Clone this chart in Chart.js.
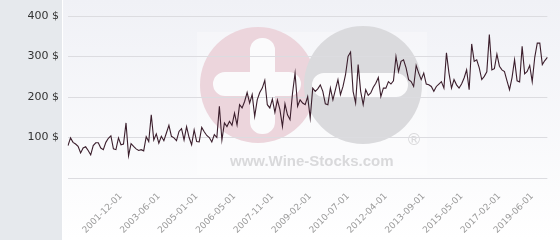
<!DOCTYPE html>
<html>
<head>
<meta charset="utf-8">
<script src="https://cdn.jsdelivr.net/npm/chart.js@4/dist/chart.umd.min.js"></script>
<style>
  html, body { margin: 0; padding: 0; background: #fff; }
  #wrap { width: 560px; height: 240px; }
</style>
</head>
<body>
<div id="wrap"><canvas id="priceChart" width="560" height="240"></canvas></div>
<script>
// tick dates shown on the x axis and the point index each one sits on
const tickLabels = ['2001-12-01', '2003-06-01', '2005-01-01', '2006-05-01', '2007-11-01', '2009-02-01',
  '2010-07-01', '2012-04-01', '2013-09-01', '2015-05-01', '2017-02-01', '2019-06-01'];
const tickIndex = [21, 36, 51, 66, 81, 96, 111, 126, 141, 156, 171, 184];

// price per sale ($)
const prices = [
  80, 99, 88, 84, 78, 62, 74, 77, 68, 57,
  80, 87, 87, 74, 70, 88, 98, 104, 72, 70,
  99, 82, 84, 136, 55, 85, 78, 72, 68, 70,
  67, 102, 90, 156,
  94, 109, 86, 103, 92, 111, 130, 103, 99, 92,
  115, 122, 94, 127, 100, 82, 119, 90, 89, 125,
  114, 105, 100, 89, 107, 100, 177, 94, 136, 127,
  140, 130, 160,
  131, 181, 173, 189, 211, 185, 206, 152, 193, 211,
  222, 241, 181, 173, 195, 162, 193, 169, 127, 183,
  156, 144, 210, 259, 177, 193, 185, 181, 201, 148,
  222, 214, 220, 230, 214,
  183, 181, 222, 193, 218, 243, 206, 226, 255, 300,
  311, 214, 185, 280, 214, 181, 218, 204, 210, 224,
  234, 248, 201, 222, 222, 238, 232, 240, 300, 263,
  288, 292, 272, 243, 238, 226, 278, 259, 243, 259,
  232, 230, 226, 214, 226, 232, 238, 222, 309, 259,
  222, 243, 230, 222, 232, 247, 267, 218, 331, 288,
  292, 272,
  243, 251, 262, 354, 267, 270, 306, 276, 267, 263,
  240, 218, 248, 292, 240, 237, 325, 257, 263, 278,
  238, 298, 333, 333, 280, 290, 298
];

const yTicks = [100, 200, 300, 400];

const categories = prices.map((_, i) => {
  const k = tickIndex.indexOf(i);
  return k >= 0 ? tickLabels[k] : '';
});

// page background, left panel and the faint logo behind the plot
const backdrop = {
  id: 'backdrop',
  beforeDraw(chart) {
    const ctx = chart.ctx;
    const { width, height } = chart;
    ctx.save();

    const g = ctx.createLinearGradient(0, 0, 0, height);
    g.addColorStop(0, '#f0f1f6');
    g.addColorStop(1, '#ffffff');
    ctx.fillStyle = g;
    ctx.fillRect(0, 0, width, height);

    ctx.fillStyle = '#e6e9ed';
    ctx.fillRect(0, 0, 62, height);
    ctx.fillStyle = '#ffffff';
    ctx.fillRect(62, 0, 1, height);

    ctx.fillStyle = 'rgba(255,255,255,0.3)';
    ctx.fillRect(197, 32, 230, 143);

    ctx.fillStyle = '#ecd5dc';
    ctx.beginPath();
    ctx.arc(258, 85, 58, 0, Math.PI * 2);
    ctx.fill();
    ctx.fillStyle = '#dadadd';
    ctx.beginPath();
    ctx.arc(363, 85, 59, 0, Math.PI * 2);
    ctx.fill();

    ctx.fillStyle = '#fbfbfc';
    ctx.beginPath();
    ctx.roundRect(213, 72, 88, 24, 12);
    ctx.roundRect(250, 38, 25, 96, 12);
    ctx.roundRect(312, 73, 96, 24, 12);
    ctx.fill();

    ctx.fillStyle = '#d9d9db';
    ctx.font = 'bold 15px "Liberation Sans", Arial, sans-serif';
    ctx.textBaseline = 'alphabetic';
    ctx.fillText('www.Wine-Stocks.com', 230, 166);
    ctx.font = '16px "DejaVu Sans", sans-serif';
    ctx.fillText('\u00ae', 406, 145);

    ctx.restore();
  }
};

new Chart(document.getElementById('priceChart'), {
  type: 'line',
  data: {
    labels: categories,
    datasets: [{
      data: prices,
      borderColor: '#3b1e2c',
      borderWidth: 1.1,
      pointRadius: 0,
      tension: 0,
      fill: false
    }]
  },
  options: {
    responsive: false,
    animation: false,
    devicePixelRatio: 1,
    layout: { padding: { top: 16, right: 6, left: 0, bottom: 0 } },
    plugins: {
      legend: { display: false },
      tooltip: { enabled: false }
    },
    scales: {
      x: {
        type: 'category',
        offset: false,
        grid: { display: false },
        border: { display: false },
        ticks: {
          autoSkip: false,
          maxRotation: 45,
          minRotation: 45,
          color: '#9a9a9a',
          padding: 5,
          font: { family: 'DejaVu Sans', size: 9 }
        },
        afterFit(scale) { scale.height = 62; }
      },
      y: {
        min: 0,
        max: 400,
        grid: { color: '#dcdce0', drawTicks: false },
        border: { display: false },
        ticks: {
          stepSize: 100,
          padding: 9,
          color: '#333333',
          font: { family: 'DejaVu Sans', size: 11 },
          callback: v => yTicks.includes(v) ? v + ' $' : ''
        },
        afterFit(scale) { scale.width = 68; }
      }
    }
  },
  plugins: [backdrop]
});
</script>
</body>
</html>
